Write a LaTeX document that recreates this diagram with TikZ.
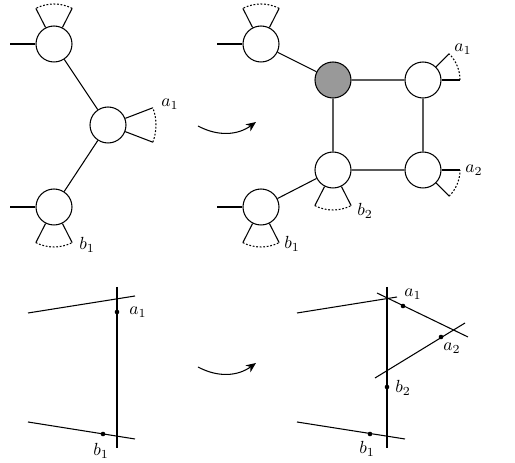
\documentclass[tikz,border=0pt]{standalone}
\usepackage{tikz}
\usetikzlibrary{arrows.meta,calc}

\begin{document}
\begin{tikzpicture}[x=0.02cm, y=0.02cm, line width=0.6pt,
  vtx/.style={circle, draw, fill=white, minimum size=0.72cm, inner sep=0pt},
  gvtx/.style={vtx, fill=black!40},
  dots/.style={dash pattern=on 1pt off 1pt},
  bendarrow/.style={-{Stealth[length=2mm, width=1.7mm]}, bend right=32}]
\useasboundingbox (0,0) rectangle (515,463);
% upper left graph
\node[vtx] (A) at (54,419) {};
\node[vtx] (B) at (108,338) {};
\node[vtx] (C) at (54,256) {};
\draw (A) -- (B) -- (C);
\draw (10,419) -- (A.west);
\draw (10,256) -- (C.west);
% upper right graph
\node[vtx] (D) at (261,419) {};
\node[gvtx] (E) at (333,383) {};
\node[vtx] (F) at (423,383) {};
\node[vtx] (G) at (333,293) {};
\node[vtx] (H) at (423,293) {};
\node[vtx] (I) at (261,256) {};
\draw (D) -- (E) -- (F) -- (H) -- (G) -- (E);
\draw (G) -- (I);
\draw (217,419) -- (D.west);
\draw (217,256) -- (I.west);
% half-edges with dotted bundles
\foreach \n/\p/\q/\r in {A/63/117/0.8, C/243/297/0.8, B/-21/21/0.96,
                         D/63/117/0.8, I/243/297/0.8, G/243/297/0.8,
                         F/0/45/0.74, H/-45/0/0.74} {
  \draw (\n.\p) -- ($(\n)+(\p:\r cm)$);
  \draw (\n.\q) -- ($(\n)+(\q:\r cm)$);
  \draw[dots] ($(\n)+(\p:\r cm)$) arc[start angle=\p, end angle=\q, radius=\r cm];
}
\node (la1) at (170,359) {$a_1$};
\node (lb1) at (87,218) {$b_1$};
\node (ra1) at (463,414) {$a_1$};
\node (ra2) at (474,293) {$a_2$};
\node (rb2) at (365,252) {$b_2$};
\node (rb1) at (292,219) {$b_1$};
% arrows
\coordinate (s1) at (198,337);
\coordinate (t1) at (256,341);
\draw[bendarrow] (s1) to (t1);
\coordinate (s2) at (198,96);
\coordinate (t2) at (256,100);
\draw[bendarrow] (s2) to (t2);
% lower left lines
\coordinate (v1) at (117,176);
\coordinate (v2) at (117,15);
\coordinate (p1) at (28,150);
\coordinate (p2) at (135,167);
\coordinate (q1) at (28,41);
\coordinate (q2) at (135,24);
\draw (v1) -- (v2);
\draw (p1) -- (p2);
\draw (q1) -- (q2);
\coordinate (A1) at (117,151);
\coordinate (B1) at (103,29);
\fill (A1) circle (1.3pt);
\fill (B1) circle (1.3pt);
\node (lla1) at (138,151) {$a_1$};
\node (llb1) at (101,12) {$b_1$};
% lower right lines
\coordinate (w1) at (387,176);
\coordinate (w2) at (387,15);
\coordinate (m1) at (297,150);
\coordinate (m2) at (397,166);
\coordinate (n1) at (377,170);
\coordinate (n2) at (468,126);
\coordinate (o1) at (375,85);
\coordinate (o2) at (465,140);
\coordinate (k1) at (297,41);
\coordinate (k2) at (405,24);
\draw (w1) -- (w2);
\draw (m1) -- (m2);
\draw (n1) -- (n2);
\draw (o1) -- (o2);
\draw (k1) -- (k2);
\coordinate (RA1) at (403,157);
\coordinate (RA2) at (441,126);
\coordinate (RB2) at (387,76);
\coordinate (RB1) at (370,29);
\foreach \c in {RA1,RA2,RB2,RB1} \fill (\c) circle (1.3pt);
\node (lra1) at (413,169) {$a_1$};
\node (lra2) at (452,115) {$a_2$};
\node (lrb2) at (403,75) {$b_2$};
\node (lrb1) at (367,14) {$b_1$};
\end{tikzpicture}
\end{document}
